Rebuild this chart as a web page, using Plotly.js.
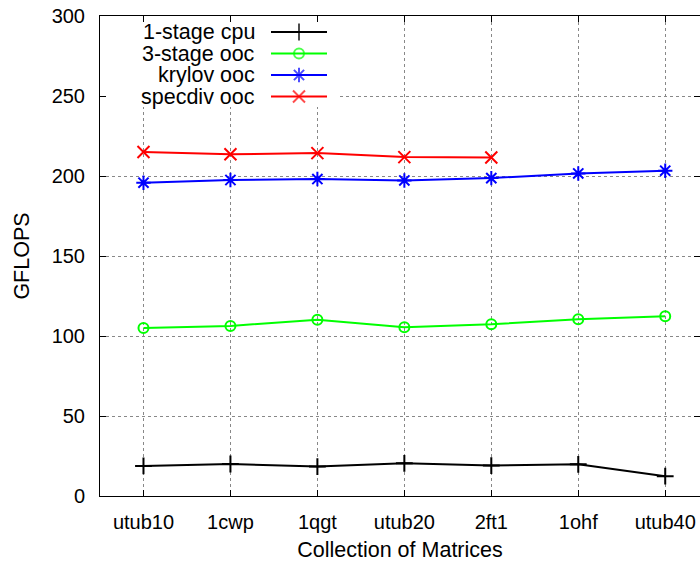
<!DOCTYPE html>
<html>
<head>
<meta charset="utf-8">
<script src="https://cdn.plot.ly/plotly-3.0.1.min.js"></script>
<style>html,body{margin:0;padding:0;background:#fff;}#chart{width:700px;height:563px;}</style>
</head>
<body>
<div id="chart"></div>
<script>
const matrices = ["utub10", "1cwp", "1qgt", "utub20", "2ft1", "1ohf", "utub40"];
const cpu1stage = [18.8, 20.0, 18.4, 20.4, 19.0, 19.8, 12.4];
const ooc3stage = [105.0, 106.3, 110.2, 105.5, 107.3, 110.4, 112.3];
const krylovOoc = [195.8, 197.5, 198.1, 197.2, 198.7, 201.6, 203.3];
const specdivMatrices = ["utub10", "1cwp", "1qgt", "utub20", "2ft1"];
const specdivOoc = [215.0, 213.6, 214.3, 211.8, 211.6];
const yTicks = [0, 50, 100, 150, 200, 250, 300];

const seriesNames = ["1-stage cpu", "3-stage ooc", "krylov ooc", "specdiv ooc"];
const seriesColors = ["#000000", "#00ff00", "#0000ff", "#ff0000"];
const seriesSymbols = ["cross-thin-open", "circle-open", "asterisk-open", "x-thin-open"];
const seriesX = [matrices, matrices, matrices, specdivMatrices];
const seriesY = [cpu1stage, ooc3stage, krylovOoc, specdivOoc];

const FONT = "Liberation Sans, Arial, Helvetica, sans-serif";
const traces = [];
for (let i = 0; i < seriesNames.length; i++) {
  traces.push({
    type: "scatter", mode: "lines+markers", name: seriesNames[i],
    x: seriesX[i], y: seriesY[i],
    line: {color: seriesColors[i], width: 2},
    marker: {symbol: seriesSymbols[i], size: i === 1 ? 10 : 12, color: seriesColors[i], line: {color: seriesColors[i], width: 2}},
    cliponaxis: false, showlegend: false
  });
}

// gnuplot-style key: opaque white box, text right-aligned, line sample to its right
// (drawn in pixel-like overlay axes x2/y2)
traces.push({
  type: "scatter", mode: "lines", xaxis: "x2", yaxis: "y2",
  x: [100.5, 340, 340, 100.5, 100.5], y: [17, 17, 107, 107, 17],
  fill: "toself", fillcolor: "#ffffff", line: {width: 0, color: "rgba(0,0,0,0)"},
  showlegend: false, hoverinfo: "skip"
});
const keyRowsY = [32, 53.5, 75, 96.5];
const keySampleX = [271, 299, 327];
const annotations = [];
for (let i = 0; i < seriesNames.length; i++) {
  traces.push({
    type: "scatter", mode: "lines+markers", xaxis: "x2", yaxis: "y2",
    x: keySampleX, y: [keyRowsY[i], keyRowsY[i], keyRowsY[i]],
    line: {color: seriesColors[i], width: 2},
    marker: {symbol: seriesSymbols[i], size: [0, i === 1 ? 10 : 12, 0], color: seriesColors[i], line: {color: seriesColors[i], width: 2}},
    showlegend: false, hoverinfo: "skip", cliponaxis: false
  });
  annotations.push({
    xref: "x2", yref: "y2", x: 257, y: keyRowsY[i], xanchor: "right", yanchor: "middle",
    text: seriesNames[i], showarrow: false, font: {family: FONT, size: 21.5, color: "#000"}
  });
}

const layout = {
  width: 700, height: 563,
  margin: {l: 100, r: 0, t: 16, b: 67},
  paper_bgcolor: "#fff", plot_bgcolor: "#fff",
  font: {family: FONT, size: 20, color: "#000"},
  showlegend: false,
  xaxis: {
    type: "category", categoryorder: "array", categoryarray: matrices,
    range: [-0.5, 6.4], autorange: false,
    showline: true, linecolor: "#000", linewidth: 1, mirror: "ticks",
    ticks: "inside", ticklen: 6, tickcolor: "#000", tickwidth: 1,
    showgrid: true, gridcolor: "#888", griddash: "dot", gridwidth: 1,
    zeroline: false, ticklabelstandoff: 8,
    tickfont: {family: FONT, size: 20, color: "#000"},
    title: {text: "Collection of Matrices", font: {family: FONT, size: 21.5, color: "#000"}, standoff: 9}
  },
  yaxis: {
    range: [0, 300], autorange: false,
    tickmode: "array", tickvals: yTicks, ticktext: yTicks.map(String),
    showline: true, linecolor: "#000", linewidth: 1, mirror: "ticks",
    ticks: "inside", ticklen: 6, tickcolor: "#000", tickwidth: 1,
    showgrid: true, gridcolor: "#888", griddash: "dot", gridwidth: 1,
    zeroline: false, ticklabelstandoff: 10,
    tickfont: {family: FONT, size: 20, color: "#000"},
    title: {text: "GFLOPS", font: {family: FONT, size: 21.5, color: "#000"}, standoff: 16}
  },
  xaxis2: {overlaying: "x", range: [100, 700], autorange: false, visible: false, fixedrange: true},
  yaxis2: {overlaying: "y", range: [496, 16], autorange: false, visible: false, fixedrange: true},
  annotations: annotations
};

Plotly.newPlot("chart", traces, layout, {staticPlot: true, displayModeBar: false});
</script>
</body>
</html>
